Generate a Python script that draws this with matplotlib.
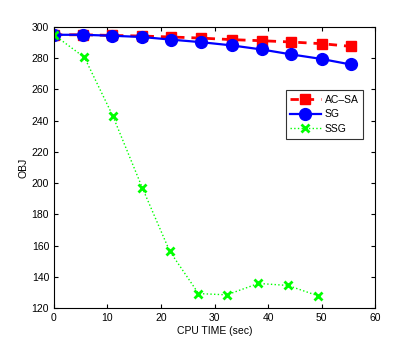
import numpy as np
import matplotlib
matplotlib.use('Agg')
import matplotlib.pyplot as plt

plt.rcParams['font.family'] = ['Liberation Sans', 'DejaVu Sans']

# CPU time (sec) and objective values
t_sg = [0, 5.5, 10.8, 16.4, 21.9, 27.4, 33.2, 38.8, 44.2, 50.0, 55.4]
obj_acsa = [295, 295, 294.6, 294.2, 293.6, 292.9, 291.9, 291.2, 290.4, 289.3, 287.6]
obj_sg = [295, 295, 294.4, 293.6, 291.9, 290.3, 288.2, 285.6, 282.5, 279.5, 276.0]

t_ssg = [0, 5.7, 11.0, 16.5, 21.6, 27.0, 32.3, 38.2, 43.7, 49.3]
obj_ssg = [295, 280.5, 243, 197, 156.5, 129.2, 128.4, 135.7, 134.4, 127.8]

fig = plt.figure(figsize=(4.15, 3.46), dpi=100)
ax = fig.add_axes([0.13, 0.11, 0.774, 0.812])

ax.plot(t_sg, obj_acsa, '--s', color='red', lw=2, ms=7.5, dashes=(3, 2.5),
        label='AC\u2013SA')
ax.plot(t_sg, obj_sg, '-o', color='blue', lw=1.6, ms=8.5, label='SG')
ax.plot(t_ssg, obj_ssg, ':x', color='#00ff00', lw=1, ms=6, mew=2, label='SSG')

ax.set_xlim(0, 60)
ax.set_ylim(120, 300)
ax.set_xticks(np.arange(0, 61, 10))
ax.set_yticks(np.arange(120, 301, 20))
ax.tick_params(direction='in', top=True, right=True, labelsize=7.5, length=3)
ax.set_xlabel('CPU TIME (sec)', fontsize=7.5, labelpad=2)
ax.set_ylabel('OBJ', fontsize=7.5, labelpad=2)

leg = ax.legend(loc='upper right', bbox_to_anchor=(0.963, 0.776), numpoints=1,
                fontsize=7.5, fancybox=False, framealpha=1, borderpad=0.45,
                handlelength=2.9, handletextpad=0.4, labelspacing=0.45,
                borderaxespad=0)
leg.get_frame().set_edgecolor('#333333')
leg.get_frame().set_linewidth(0.8)

fig.savefig('out.png', dpi=100)
